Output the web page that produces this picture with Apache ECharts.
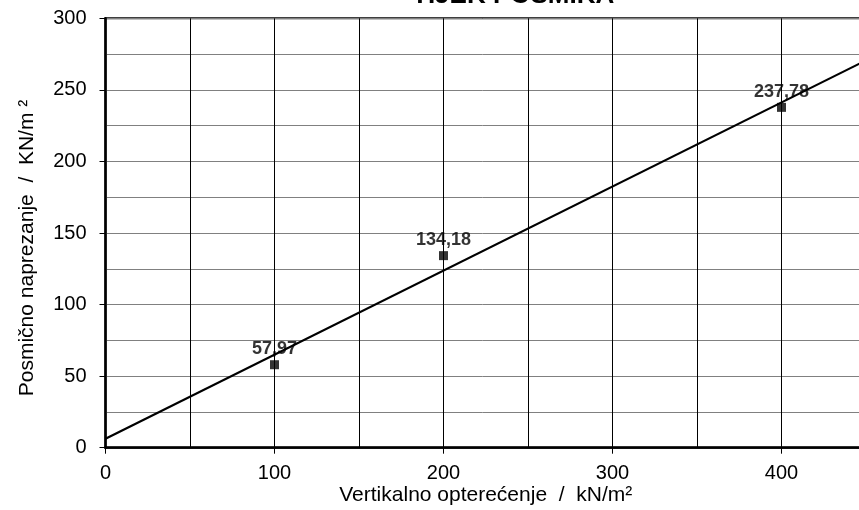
<!DOCTYPE html>
<html>
<head>
<meta charset="utf-8">
<script src="https://cdn.jsdelivr.net/npm/echarts@6/dist/echarts.min.js"></script>
<style>
  html, body { margin: 0; padding: 0; background: #fff; }
  #chart { width: 859px; height: 510px; }
</style>
</head>
<body>
<div id="chart"></div>
<script>
// Shear test: vertical load vs. shear stress
const loads = [100, 200, 400];
const shearStress = [57.97, 134.18, 237.78];
const trendX = [0, 450];
const trendY = [6.2, 270.6];
const labelText = ['57,97', '134,18', '237,78'];

const points = loads.map((x, i) => [x, shearStress[i]]);
const trend = trendX.map((x, i) => [x, trendY[i]]);

const font = 'Liberation Sans, Arial, sans-serif';
const chart = echarts.init(document.getElementById('chart'));

chart.setOption({
  animation: false,
  backgroundColor: '#fff',
  title: {
    text: 'TIJEK POSMIKA',
    left: 407,
    top: -22,
    textStyle: { fontFamily: font, fontSize: 26, fontWeight: 'bold', color: '#000' }
  },
  grid: {
    left: 105.5, top: 18.3, width: 760.5, height: 429.4,
    outerBoundsMode: 'none',
    containLabel: false,
    show: true, borderColor: '#000', borderWidth: 2, backgroundColor: 'transparent'
  },
  xAxis: {
    type: 'value', min: 0, max: 450, interval: 100,
    name: 'Vertikalno opterećenje  /  kN/m²',
    nameLocation: 'middle', nameGap: 37, nameMoveOverlap: false,
    nameTextStyle: { fontFamily: font, fontSize: 21, color: '#000' },
    axisLine: { show: true, lineStyle: { color: '#000', width: 2.5 } },
    axisTick: { show: true, length: 6, lineStyle: { color: '#000', width: 1 } },
    axisLabel: { fontFamily: font, fontSize: 20, color: '#000', margin: 16,
      formatter: v => (v > 440 ? '' : String(v)) },
    splitLine: { show: true, lineStyle: { color: '#000', width: 1 } },
    minorTick: { show: false, splitNumber: 2 },
    minorSplitLine: { show: true, lineStyle: { color: '#000', width: 1 } }
  },
  yAxis: {
    type: 'value', min: 0, max: 300, interval: 50,
    name: 'Posmično naprezanje  /  KN/m ²',
    nameLocation: 'middle', nameGap: 68, nameRotate: 90, nameMoveOverlap: false,
    nameTextStyle: { fontFamily: font, fontSize: 21, color: '#000', padding: [0, 30, 0, 0] },
    axisLine: { show: true, lineStyle: { color: '#000', width: 2.5 } },
    axisTick: { show: true, length: 6, lineStyle: { color: '#000', width: 1 } },
    axisLabel: { fontFamily: font, fontSize: 20, color: '#000', margin: 19 },
    splitLine: { show: true, lineStyle: { color: '#808080', width: 1 } },
    minorTick: { show: false, splitNumber: 2 },
    minorSplitLine: { show: true, lineStyle: { color: '#808080', width: 1 } }
  },
  series: [
    {
      type: 'line',
      data: trend,
      symbol: 'none',
      lineStyle: { color: '#000', width: 2.2 },
      z: 3
    },
    {
      type: 'scatter',
      data: points,
      symbol: 'rect',
      symbolSize: 9,
      itemStyle: { color: '#000' },
      label: {
        show: true, position: 'top', distance: 2,
        formatter: p => labelText[p.dataIndex],
        fontFamily: font, fontSize: 18, fontWeight: 'bold', color: '#000'
      },
      z: 4
    }
  ]
});
</script>
</body>
</html>
